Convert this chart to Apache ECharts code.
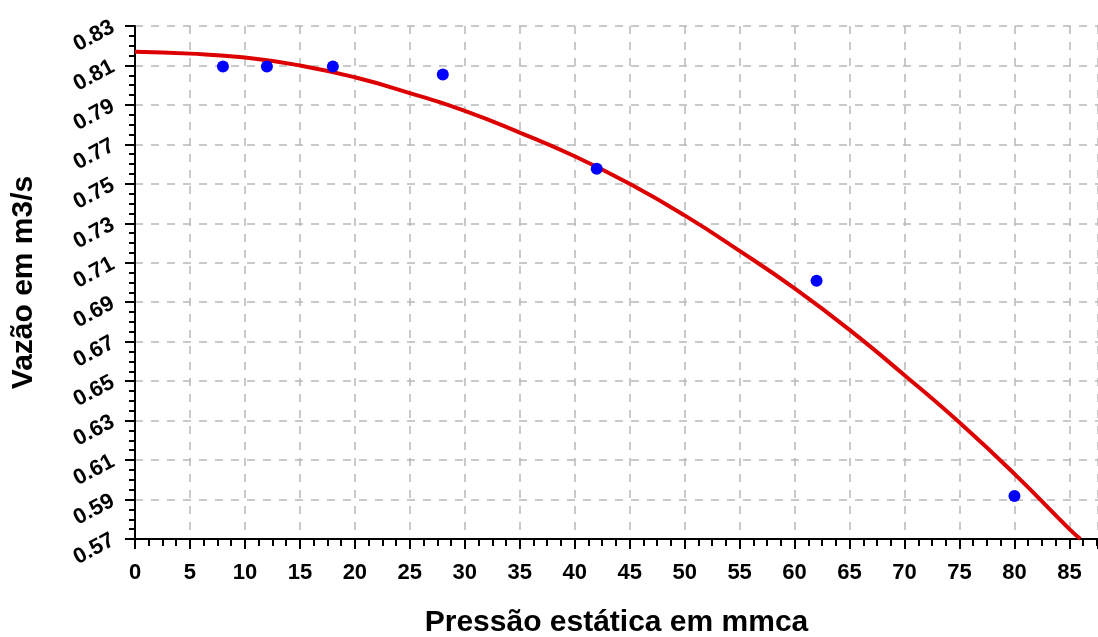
<!DOCTYPE html>
<html>
<head>
<meta charset="utf-8">
<script src="https://cdn.jsdelivr.net/npm/echarts@6/dist/echarts.min.js"></script>
<style>
  html, body { margin: 0; padding: 0; background: #fff; }
  #chart { width: 1098px; height: 637px; }
</style>
</head>
<body>
<div id="chart"></div>
<script>
// Measured points (pressure mmca, flow m3/s)
const measuredX = [8, 12, 18, 28, 42, 62, 80]
const measuredY = [0.8095, 0.8095, 0.8095, 0.8054, 0.7577, 0.7009, 0.5918]

// Fitted curve
const curveX = [0, 5, 10, 15, 20, 25, 30, 35, 40, 45, 50, 55, 60, 65, 70, 75, 80, 85, 86]
const curveY = [0.817, 0.816, 0.814, 0.810, 0.804, 0.796, 0.787, 0.776, 0.764, 0.750,
  0.734, 0.716, 0.697, 0.676, 0.653, 0.629, 0.603, 0.575, 0.570]

const xName = 'Pressão estática em mmca'
const yName = 'Vazão em m3/s'

const chart = echarts.init(document.getElementById('chart'))

const labelFont = {
  fontFamily: 'Liberation Sans',
  fontWeight: 'bold',
  fontSize: 22,
  color: '#000'
}
const nameFont = {
  fontFamily: 'Liberation Sans',
  fontWeight: 'bold',
  fontSize: 30,
  color: '#000'
}
const gridDash = { color: '#b8b8b8', type: [8, 8], width: 1.5 }

chart.setOption({
  animation: false,
  backgroundColor: '#fff',
  grid: { left: 135, right: 0, top: 26, bottom: 98, containLabel: false, outerBoundsMode: 'none' },
  xAxis: {
    type: 'value',
    min: 0,
    max: 87.6,
    interval: 5,
    name: xName,
    nameLocation: 'middle',
    nameGap: 69,
    nameTextStyle: nameFont,
    axisLine: { lineStyle: { color: '#000', width: 2 } },
    axisTick: { show: true, length: 10, lineStyle: { color: '#000', width: 2 } },
    minorTick: { show: true, splitNumber: 4, length: 7, lineStyle: { color: '#000', width: 2 } },
    axisLabel: Object.assign({ margin: 23, showMaxLabel: false }, labelFont),
    splitLine: { show: true, lineStyle: gridDash }
  },
  yAxis: {
    type: 'value',
    min: 0.57,
    max: 0.83,
    interval: 0.02,
    name: yName,
    nameLocation: 'middle',
    nameGap: 96,
    nameTextStyle: nameFont,
    axisLine: { lineStyle: { color: '#000', width: 2 } },
    axisTick: { show: true, length: 10, lineStyle: { color: '#000', width: 2 } },
    minorTick: { show: true, splitNumber: 4, length: 6, lineStyle: { color: '#000', width: 2 } },
    axisLabel: Object.assign({
      margin: 22,
      rotate: 28,
      formatter: v => v.toFixed(2)
    }, labelFont),
    splitLine: { show: true, lineStyle: gridDash }
  },
  series: [
    {
      name: 'Curva',
      type: 'line',
      data: curveX.map((x, i) => [x, curveY[i]]),
      smooth: true,
      showSymbol: false,
      lineStyle: { color: '#dd0000', width: 4 },
      clip: true,
      z: 2
    },
    {
      name: 'Medido',
      type: 'scatter',
      data: measuredX.map((x, i) => [x, measuredY[i]]),
      symbolSize: 12,
      itemStyle: { color: '#0000ff', opacity: 1 },
      z: 3
    }
  ]
})
</script>
</body>
</html>
